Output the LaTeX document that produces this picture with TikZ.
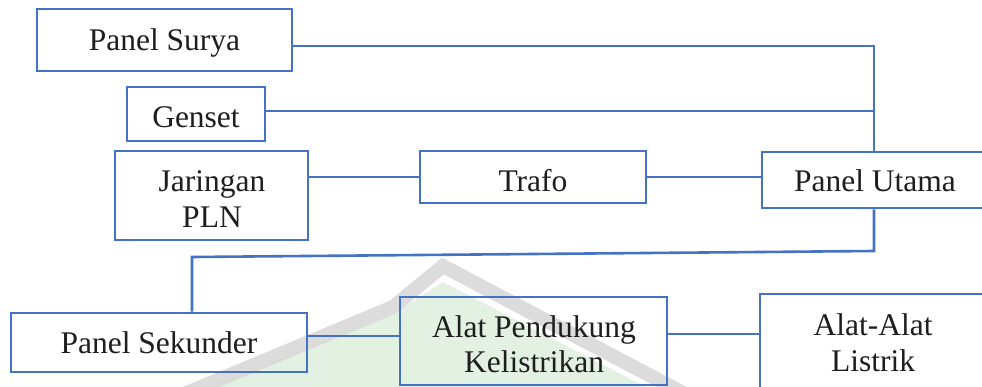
\documentclass[tikz,border=0pt]{standalone}
\usepackage{fontspec}
\setmainfont{Liberation Serif}
\usetikzlibrary{calc}
\definecolor{wire}{HTML}{4472C4}
\definecolor{inkc}{HTML}{1E1E1E}
\definecolor{markgrey}{HTML}{D9D9D9}
\definecolor{markgreen}{HTML}{DCEEDC}
\tikzset{
  box/.style={draw=wire, line width=2.6pt, rectangle, inner sep=0pt},
  caption/.style={anchor=base, inner sep=0pt, text=inkc,
    font=\fontsize{31.5}{36}\selectfont},
  wireline/.style={draw=wire, line width=2.6pt},
}
\begin{document}
\begin{tikzpicture}[x=1pt, y=-1pt]
\useasboundingbox (0,0) rectangle (982,387);
\clip (0,0) rectangle (982,387);
\fill[white] (0,0) rectangle (982,387);

% faint roof-shaped watermark behind the lower row
\fill[markgreen, opacity=0.8] (175,400) -- (393,314) -- (443,282) -- (690,410) -- cycle;
\draw[markgrey, line width=14pt, line join=miter, opacity=0.9]
  (165,402) -- (393,307) -- (443,266) -- (700,402);

% boxes
\node[box, minimum width=255pt, minimum height=62pt] (surya)    at (164.5,40)  {};
\node[box, minimum width=138pt, minimum height=54pt] (genset)   at (196,114)   {};
\node[box, minimum width=193pt, minimum height=89pt] (pln)      at (211.5,195.5) {};
\node[box, minimum width=226pt, minimum height=52pt] (trafo)    at (533,177)   {};
\node[box, minimum width=226pt, minimum height=56pt] (utama)    at (875,180)   {};
\node[box, minimum width=296pt, minimum height=59pt] (sekunder) at (159,342.5) {};
\node[box, minimum width=267pt, minimum height=88pt] (pendukung) at (533.5,341) {};
\node[box, minimum width=226pt, minimum height=104pt] (listrik) at (873,346)   {};

% labels
\node[caption] (suryaT)     at (164.5,51)  {Panel Surya};
\node[caption] (gensetT)    at (196,128)   {Genset};
\node[caption] (plnT1)      at (212,192)   {Jaringan};
\node[caption] (plnT2)      at (212,228)   {PLN};
\node[caption] (trafoT)     at (533,192)   {Trafo};
\node[caption] (utamaT)     at (875,192)   {Panel Utama};
\node[caption] (sekunderT)  at (159,353)   {Panel Sekunder};
\node[caption] (pendukungT1) at (534,337)  {Alat Pendukung};
\node[caption] (pendukungT2) at (534,372)  {Kelistrikan};
\node[caption] (listrikT1)  at (873,335)   {Alat-Alat};
\node[caption] (listrikT2)  at (873,371)   {Listrik};

% junction points
\coordinate (jA) at (874,46);
\coordinate (jB) at (874,111);
\coordinate (jC) at (874,251);
\coordinate (jD) at (192,257);
\coordinate (jE) at (0,336);
\coordinate (jF) at (0,334);

% connectors
\draw[wireline] (surya.east |- jA) -- (jA) -- (jA |- utama.north);
\draw[wireline] (genset.east |- jB) -- (jB);
\draw[wireline] (pln.east |- trafo.west) -- (trafo.west);
\draw[wireline] (trafo.east) -- (trafo.east -| utama.west);
\draw[wireline] (jC |- utama.south) -- (jC) -- (jD) -- (jD |- sekunder.north);
\draw[wireline] (sekunder.east |- jE) -- (pendukung.west |- jE);
\draw[wireline] (pendukung.east |- jF) -- (listrik.west |- jF);
\end{tikzpicture}
\end{document}
